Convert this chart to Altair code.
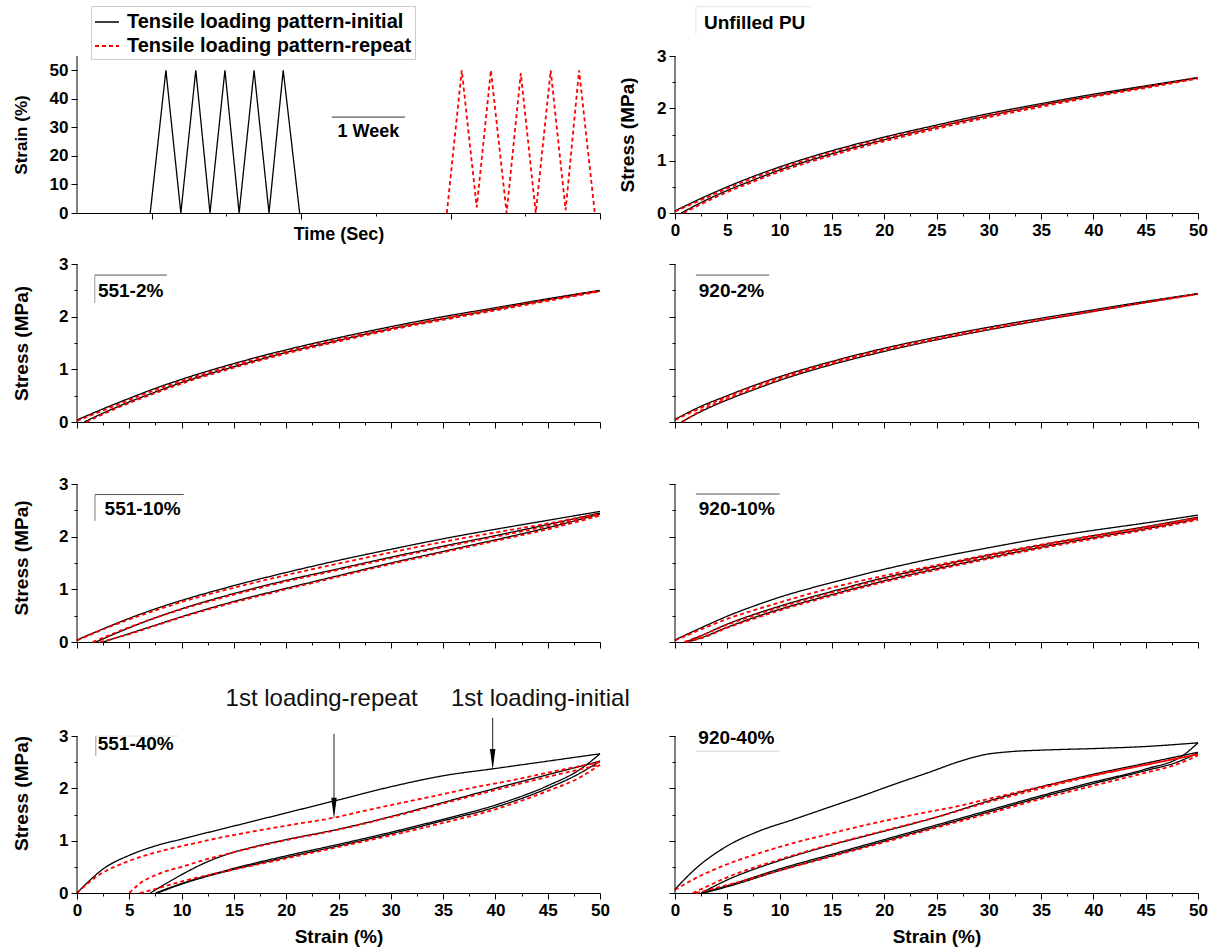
import altair as alt
import pandas as pd

FONT = "Liberation Sans"
SER_I = "Tensile loading pattern-initial"
SER_R = "Tensile loading pattern-repeat"

# ---------------- loading pattern (top-left) ----------------
PAT_INIT_TIME = [0.98, 1.19, 1.39, 1.59, 1.78, 1.98, 2.17, 2.37, 2.57, 2.76, 2.98]
PAT_INIT_STRAIN = [0, 50, 0, 50, 0, 50, 0, 50, 0, 50, 0]
PAT_REP_TIME = [4.95, 5.15, 5.35, 5.54, 5.75, 5.94, 6.14, 6.34, 6.54, 6.72, 6.93]
PAT_REP_STRAIN = [0, 50, 2, 50, 0, 49, 0, 50, 1, 50, 0]

# ---------------- Unfilled PU ----------------
PU_INIT_LOAD = [(0, 0.04), (2.5, 0.28), (5, 0.5), (7.5, 0.7), (10, 0.88), (15, 1.19), (20, 1.45), (25, 1.68), (30, 1.9), (35, 2.09), (40, 2.27), (45, 2.43), (50, 2.59)]
PU_INIT_UNLOAD = [(0.6, 0), (2.5, 0.2), (5, 0.43), (7.5, 0.63), (10, 0.82), (15, 1.13), (20, 1.4), (25, 1.64), (30, 1.86), (35, 2.06), (40, 2.24), (45, 2.41), (50, 2.58)]
PU_REP_LOAD = [(0, 0.03), (2.5, 0.25), (5, 0.47), (7.5, 0.67), (10, 0.85), (15, 1.16), (20, 1.42), (25, 1.65), (30, 1.87), (35, 2.06), (40, 2.24), (45, 2.41), (50, 2.58)]
PU_REP_UNLOAD = [(0.8, 0), (2.5, 0.17), (5, 0.4), (7.5, 0.6), (10, 0.79), (15, 1.1), (20, 1.37), (25, 1.61), (30, 1.83), (35, 2.03), (40, 2.22), (45, 2.39), (50, 2.57)]

# ---------------- 551-2% ----------------
A2_INIT_LOAD = [(0, 0.04), (2.5, 0.25), (5, 0.45), (7.5, 0.64), (10, 0.81), (15, 1.11), (20, 1.37), (25, 1.6), (30, 1.81), (35, 2.0), (40, 2.17), (45, 2.34), (50, 2.5)]
A2_INIT_UNLOAD = [(0.7, 0), (2.5, 0.17), (5, 0.38), (7.5, 0.57), (10, 0.75), (15, 1.05), (20, 1.32), (25, 1.55), (30, 1.77), (35, 1.96), (40, 2.14), (45, 2.32), (50, 2.49)]
A2_REP_LOAD = [(0, 0.02), (2.5, 0.22), (5, 0.42), (7.5, 0.61), (10, 0.78), (15, 1.08), (20, 1.34), (25, 1.57), (30, 1.78), (35, 1.97), (40, 2.15), (45, 2.32), (50, 2.49)]
A2_REP_UNLOAD = [(0.9, 0), (2.5, 0.15), (5, 0.36), (7.5, 0.55), (10, 0.73), (15, 1.03), (20, 1.3), (25, 1.53), (30, 1.75), (35, 1.94), (40, 2.12), (45, 2.3), (50, 2.48)]

# ---------------- 920-2% ----------------
B2_INIT_LOAD = [(0, 0.05), (2.5, 0.3), (5, 0.5), (7.5, 0.69), (10, 0.86), (15, 1.15), (20, 1.4), (25, 1.61), (30, 1.8), (35, 1.97), (40, 2.13), (45, 2.29), (50, 2.44)]
B2_INIT_UNLOAD = [(0.6, 0), (2.5, 0.2), (5, 0.42), (7.5, 0.61), (10, 0.79), (15, 1.09), (20, 1.34), (25, 1.56), (30, 1.75), (35, 1.93), (40, 2.1), (45, 2.27), (50, 2.43)]
B2_REP_LOAD = [(0, 0.04), (2.5, 0.27), (5, 0.48), (7.5, 0.67), (10, 0.84), (15, 1.13), (20, 1.38), (25, 1.59), (30, 1.78), (35, 1.95), (40, 2.11), (45, 2.27), (50, 2.43)]
B2_REP_UNLOAD = [(0.7, 0), (2.5, 0.22), (5, 0.44), (7.5, 0.63), (10, 0.81), (15, 1.11), (20, 1.36), (25, 1.57), (30, 1.76), (35, 1.94), (40, 2.1), (45, 2.27), (50, 2.43)]

# ---------------- 551-10% ----------------
A10_INIT_FIRST = [(0, 0.04), (2.5, 0.25), (5, 0.45), (7.5, 0.63), (10, 0.79), (15, 1.07), (20, 1.32), (25, 1.55), (30, 1.76), (35, 1.96), (40, 2.14), (45, 2.31), (50, 2.48)]
A10_INIT_RELOAD = [(1.8, 0), (5, 0.27), (7.5, 0.46), (10, 0.63), (15, 0.92), (20, 1.17), (25, 1.39), (30, 1.61), (35, 1.82), (40, 2.02), (45, 2.23), (50, 2.45)]
A10_INIT_UNLOAD = [(2.5, 0), (5, 0.16), (7.5, 0.32), (10, 0.48), (15, 0.77), (20, 1.02), (25, 1.26), (30, 1.5), (35, 1.72), (40, 1.94), (45, 2.17), (50, 2.43)]
A10_REP_FIRST = [(0, 0.03), (2.5, 0.24), (5, 0.43), (7.5, 0.6), (10, 0.76), (15, 1.03), (20, 1.27), (25, 1.49), (30, 1.7), (35, 1.9), (40, 2.08), (45, 2.25), (50, 2.44)]
A10_REP_RELOAD = [(1.5, 0), (5, 0.28), (7.5, 0.46), (10, 0.62), (15, 0.9), (20, 1.15), (25, 1.37), (30, 1.59), (35, 1.8), (40, 2.0), (45, 2.2), (50, 2.42)]
A10_REP_UNLOAD = [(2.2, 0), (5, 0.15), (7.5, 0.31), (10, 0.47), (15, 0.75), (20, 1.0), (25, 1.24), (30, 1.48), (35, 1.7), (40, 1.92), (45, 2.14), (50, 2.4)]

# ---------------- 920-10% ----------------
B10_INIT_FIRST = [(0, 0.04), (2.5, 0.27), (5, 0.49), (7.5, 0.68), (10, 0.85), (15, 1.13), (20, 1.38), (25, 1.6), (30, 1.79), (35, 1.97), (40, 2.12), (45, 2.26), (50, 2.41)]
B10_INIT_RELOAD = [(1.0, 0), (2.5, 0.12), (5, 0.34), (7.5, 0.52), (10, 0.68), (15, 0.96), (20, 1.22), (25, 1.44), (30, 1.65), (35, 1.84), (40, 2.02), (45, 2.19), (50, 2.37)]
B10_INIT_UNLOAD = [(1.2, 0), (2.5, 0.08), (5, 0.28), (7.5, 0.46), (10, 0.62), (15, 0.9), (20, 1.16), (25, 1.39), (30, 1.6), (35, 1.8), (40, 1.98), (45, 2.15), (50, 2.34)]
B10_REP_FIRST = [(0, 0.03), (2.5, 0.24), (5, 0.44), (7.5, 0.6), (10, 0.75), (15, 1.03), (20, 1.26), (25, 1.46), (30, 1.66), (35, 1.85), (40, 2.02), (45, 2.18), (50, 2.36)]
B10_REP_RELOAD = [(0.9, 0), (2.5, 0.12), (5, 0.33), (7.5, 0.5), (10, 0.66), (15, 0.94), (20, 1.2), (25, 1.42), (30, 1.63), (35, 1.82), (40, 2.0), (45, 2.17), (50, 2.35)]
B10_REP_UNLOAD = [(1.1, 0), (2.5, 0.07), (5, 0.27), (7.5, 0.44), (10, 0.6), (15, 0.88), (20, 1.14), (25, 1.37), (30, 1.58), (35, 1.78), (40, 1.96), (45, 2.13), (50, 2.32)]

# ---------------- 551-40% ----------------
A40_INIT_FIRST = [(0, 0), (1, 0.2), (2.5, 0.46), (5, 0.72), (7.5, 0.9), (10, 1.03), (15, 1.28), (20, 1.53), (25, 1.78), (30, 2.03), (35, 2.24), (40, 2.38), (45, 2.52), (50, 2.66)]
A40_INIT_RELOAD = [(7, 0), (8, 0.12), (10, 0.35), (12.5, 0.6), (15, 0.78), (17.5, 0.91), (20, 1.02), (25, 1.22), (30, 1.46), (35, 1.73), (40, 2.0), (45, 2.26), (50, 2.52)]
A40_INIT_UNLOAD1 = [(7.5, 0), (10, 0.18), (15, 0.47), (20, 0.71), (25, 0.93), (30, 1.16), (35, 1.41), (40, 1.68), (45, 2.05), (48, 2.35), (50, 2.66)]
A40_INIT_UNLOAD5 = [(7.7, 0), (10, 0.17), (15, 0.45), (20, 0.68), (25, 0.9), (30, 1.13), (35, 1.38), (40, 1.64), (45, 2.0), (48, 2.28), (50, 2.52)]
A40_REP_FIRST = [(0, 0), (1.7, 0.29), (4.8, 0.6), (8, 0.8), (11, 0.94), (14, 1.07), (17.5, 1.2), (21, 1.32), (24.6, 1.44), (27, 1.55), (30.5, 1.7), (34.3, 1.86), (38, 2.02), (41.5, 2.15), (45, 2.3), (50, 2.5)]
A40_REP_RELOAD = [(5, 0), (5.8, 0.15), (8, 0.38), (10, 0.5), (12.5, 0.65), (15, 0.78), (20, 1.01), (25, 1.21), (30, 1.45), (35, 1.71), (40, 1.97), (45, 2.22), (50, 2.45)]
A40_REP_UNLOAD = [(6, 0), (7, 0.05), (10, 0.22), (15, 0.45), (20, 0.66), (25, 0.88), (30, 1.1), (35, 1.34), (40, 1.6), (45, 1.95), (48, 2.2), (50, 2.45)]

# ---------------- 920-40% ----------------
B40_INIT_FIRST = [(0, 0.07), (2, 0.47), (5, 0.9), (8, 1.18), (11.4, 1.41), (14.6, 1.63), (17.8, 1.85), (21, 2.08), (24.2, 2.3), (27.3, 2.52), (29.5, 2.64), (32, 2.7), (35, 2.73), (40, 2.76), (45, 2.8), (50, 2.87)]
B40_INIT_RELOAD = [(2.5, 0), (5, 0.25), (10, 0.62), (15, 0.92), (20, 1.18), (25, 1.45), (30, 1.76), (35, 2.03), (40, 2.27), (45, 2.48), (50, 2.69)]
B40_INIT_UNLOAD1 = [(2.5, 0), (5, 0.14), (10, 0.46), (15, 0.74), (20, 1.02), (25, 1.3), (30, 1.58), (35, 1.86), (40, 2.12), (45, 2.37), (48.5, 2.62), (50, 2.87)]
B40_INIT_UNLOAD5 = [(2.7, 0), (5, 0.12), (10, 0.43), (15, 0.71), (20, 0.99), (25, 1.27), (30, 1.55), (35, 1.83), (40, 2.09), (45, 2.34), (48, 2.5), (50, 2.68)]
B40_REP_FIRST = [(0, 0.06), (1.85, 0.27), (5, 0.55), (8.2, 0.77), (11.4, 0.96), (14.6, 1.12), (17.8, 1.28), (21, 1.42), (24.2, 1.55), (27.3, 1.67), (30, 1.8), (35, 2.03), (40, 2.25), (45, 2.45), (50, 2.65)]
B40_REP_RELOAD = [(1.7, 0), (3, 0.12), (5, 0.3), (10, 0.64), (15, 0.93), (20, 1.19), (25, 1.45), (30, 1.74), (35, 2.0), (40, 2.24), (45, 2.45), (50, 2.65)]
B40_REP_UNLOAD = [(2, 0), (5, 0.15), (10, 0.43), (15, 0.7), (20, 0.97), (25, 1.25), (30, 1.52), (35, 1.8), (40, 2.05), (45, 2.3), (48, 2.46), (50, 2.63)]

# ---------------- ticks ----------------
X_TICKS = [i * 2.5 for i in range(21)]
Y_TICKS = [i * 0.5 for i in range(7)]
T_TICKS = [1, 2, 3, 4, 5, 6, 7]
PAT_Y_TICKS = [0.0, 10.0, 20.0, 30.0, 40.0, 50.0]

# ---------------- layout ----------------
W = 523
ROW_H = [157, 158, 169, 200]
ROW_YMAX = [3.0, 3.0, 3.209, 3.822]

CSCALE = alt.Scale(domain=[SER_I, SER_R], range=["#000000", "#ff0000"])
DSCALE = alt.Scale(domain=[SER_I, SER_R], range=[[1, 0], [4, 3]])
WSCALE = alt.Scale(domain=[SER_I, SER_R], range=[1.3, 1.8])
COLOR = alt.Color("series:N", scale=CSCALE, title=None)
DASH = alt.StrokeDash("series:N", scale=DSCALE, title=None)
WIDTH = alt.StrokeWidth("series:N", scale=WSCALE, title=None)


def cond(test, big, small):
    return {"condition": {"test": test, "value": big}, "value": small}


def curves_df(curves):
    rows = []
    for cid, (series, pts) in enumerate(curves):
        for i, (x, y) in enumerate(sorted(pts)):
            rows.append({"curve": cid, "series": series, "x": x, "y": y, "i": i})
    return pd.DataFrame(rows)


def stress_panel(curves, row, xlabels, ylabels, ytitle_pad, label, label_xy, deco, extras=None):
    h = ROW_H[row]
    ymax = ROW_YMAX[row]
    xax_kw = dict(values=X_TICKS, tickSize=cond("datum.value % 5 === 0", 6, 3),
                  labelExpr="datum.value % 5 === 0 ? '' + datum.value : ''", labels=xlabels,
                  titlePadding=9, labelOverlap=False)
    yax_kw = dict(values=Y_TICKS, tickSize=cond("datum.value % 1 === 0", 6, 3),
                  labelExpr="datum.value % 1 === 0 ? '' + datum.value : ''", labels=ylabels,
                  domain=False, titlePadding=ytitle_pad, labelOverlap=False)
    xtitle = "Strain (%)" if row == 3 else None
    ytitle = "Stress (MPa)" if ylabels else None
    xax = alt.Axis(**xax_kw)
    yax = alt.Axis(**yax_kw)
    df = curves_df(curves)
    lines = alt.Chart(df).mark_line(interpolate="monotone").encode(
        x=alt.X("x:Q", scale=alt.Scale(domain=[0, 50], nice=False), axis=xax, title=xtitle),
        y=alt.Y("y:Q", scale=alt.Scale(domain=[0, ymax], nice=False), axis=yax, title=ytitle),
        color=COLOR, strokeDash=DASH, strokeWidth=WIDTH, detail="curve:N", order="i:Q")
    yline = alt.Chart(pd.DataFrame({"x": [0], "y": [0], "y2": [3]})).mark_rule(
        color="black", strokeWidth=1).encode(
        x=alt.X("x:Q", title=xtitle, axis=xax), y=alt.Y("y:Q", title=ytitle, axis=yax), y2="y2:Q")
    deco_df = pd.DataFrame(deco, columns=["x", "x2", "y", "y2", "c"])
    deco_layer = alt.Chart(deco_df).mark_rule(strokeWidth=1).encode(
        x=alt.X("x:Q", title=xtitle, axis=xax), x2="x2:Q", y=alt.Y("y:Q", title=ytitle, axis=yax), y2="y2:Q",
        stroke=alt.Stroke("c:N", scale=None))
    txt = alt.Chart(pd.DataFrame({"x": [label_xy[0]], "y": [label_xy[1]], "t": [label]})).mark_text(
        align="left", baseline="middle", font=FONT, fontWeight="bold", fontSize=19, color="black").encode(
        x=alt.X("x:Q", title=xtitle, axis=xax), y=alt.Y("y:Q", title=ytitle, axis=yax), text="t:N")
    layers = [lines, yline, deco_layer, txt]
    for make in (extras or []):
        layers.append(make(xax, yax))
    return alt.layer(*layers).properties(width=W, height=h)


# ---------------- top-left: loading pattern ----------------
pat_rows = []
for i, (t, s) in enumerate(zip(PAT_INIT_TIME, PAT_INIT_STRAIN)):
    pat_rows.append({"curve": 0, "series": SER_I, "x": t, "y": s, "i": i})
for i, (t, s) in enumerate(zip(PAT_REP_TIME, PAT_REP_STRAIN)):
    pat_rows.append({"curve": 1, "series": SER_R, "x": t, "y": s, "i": i})
pat_df = pd.DataFrame(pat_rows)

TT = "Time (Sec)"
ST = "Strain (%)"
PAT_X_AXIS = alt.Axis(values=T_TICKS, tickSize=cond("datum.value % 2 === 1", 6, 3),
                      labels=False, titlePadding=6, titleFontSize=18)
PAT_Y_AXIS = alt.Axis(values=PAT_Y_TICKS, tickCount=6, tickSize=6, domain=False, titlePadding=19,
                      titleFontSize=17, labelOverlap=False, labelExpr="'' + datum.value")
pat_lines = alt.Chart(pat_df).mark_line().encode(
    x=alt.X("x:Q", scale=alt.Scale(domain=[0, 7], nice=False), title=TT, axis=PAT_X_AXIS),
    y=alt.Y("y:Q", scale=alt.Scale(domain=[0, 55], nice=False), title=ST, axis=PAT_Y_AXIS),
    color=COLOR, strokeDash=DASH, strokeWidth=WIDTH, detail="curve:N", order="i:Q")
pat_yline = alt.Chart(pd.DataFrame({"x": [0], "y": [0], "y2": [55]})).mark_rule(
    color="black", strokeWidth=1).encode(
    x=alt.X("x:Q", title=TT, axis=PAT_X_AXIS), y=alt.Y("y:Q", title=ST, axis=PAT_Y_AXIS), y2="y2:Q")
week_rule = alt.Chart(pd.DataFrame({"x": [3.41], "x2": [4.39], "y": [33.6]})).mark_rule(
    color="#333333", strokeWidth=1).encode(
    x=alt.X("x:Q", title=TT, axis=PAT_X_AXIS), x2="x2:Q", y=alt.Y("y:Q", title=ST, axis=PAT_Y_AXIS))
week_txt = alt.Chart(pd.DataFrame({"x": [3.9], "y": [28.4], "t": ["1 Week"]})).mark_text(
    align="center", baseline="middle", font=FONT, fontWeight="bold", fontSize=18, color="black").encode(
    x=alt.X("x:Q", title=TT, axis=PAT_X_AXIS), y=alt.Y("y:Q", title=ST, axis=PAT_Y_AXIS), text="t:N")
tl = alt.layer(pat_lines, pat_yline, week_rule, week_txt).properties(width=W, height=ROW_H[0])

# ---------------- stress panels ----------------
tr = stress_panel(
    [(SER_I, PU_INIT_LOAD), (SER_I, PU_INIT_UNLOAD), (SER_R, PU_REP_LOAD), (SER_R, PU_REP_UNLOAD)],
    0, True, True, 19, "Unfilled PU", (2.77, 3.63),
    [(2.0, 13.0, 3.94, 3.94, "#e3e3e3"), (2.0, 2.0, 3.94, 3.42, "#e3e3e3")])

p551_2 = stress_panel(
    [(SER_I, A2_INIT_LOAD), (SER_I, A2_INIT_UNLOAD), (SER_R, A2_REP_LOAD), (SER_R, A2_REP_UNLOAD)],
    1, False, True, 27, "551-2%", (2.0, 2.49),
    [(1.7, 8.6, 2.79, 2.79, "#555555"), (1.7, 1.7, 2.79, 2.26, "#999999")])

p920_2 = stress_panel(
    [(SER_I, B2_INIT_LOAD), (SER_I, B2_INIT_UNLOAD), (SER_R, B2_REP_LOAD), (SER_R, B2_REP_UNLOAD)],
    1, False, False, 10, "920-2%", (2.27, 2.49),
    [(2.0, 9.0, 2.79, 2.79, "#555555")])

p551_10 = stress_panel(
    [(SER_I, A10_INIT_FIRST), (SER_I, A10_INIT_RELOAD), (SER_I, A10_INIT_UNLOAD),
     (SER_R, A10_REP_FIRST), (SER_R, A10_REP_RELOAD), (SER_R, A10_REP_UNLOAD)],
    2, False, True, 27, "551-10%", (2.64, 2.53),
    [(1.72, 10.2, 2.8, 2.8, "#555555"), (1.72, 1.72, 2.8, 2.3, "#777777")])

p920_10 = stress_panel(
    [(SER_I, B10_INIT_FIRST), (SER_I, B10_INIT_RELOAD), (SER_I, B10_INIT_UNLOAD),
     (SER_R, B10_REP_FIRST), (SER_R, B10_REP_RELOAD), (SER_R, B10_REP_UNLOAD)],
    2, False, False, 10, "920-10%", (2.27, 2.53),
    [(2.0, 10.0, 2.81, 2.81, "#555555")])

# annotations for 551-40%
ARROW_X = [24.57, 39.74]
ARROW_TOP = [3.04, 3.35]
ARROW_END = [1.62, 2.55]
ANNOT_X = [14.2, 35.75]
ANNOT_Y = [3.71, 3.71]
ANNOT_T = ["1st loading-repeat", "1st loading-initial"]

XT = "Strain (%)"
YT = "Stress (MPa)"
arr_df = pd.DataFrame({"x": ARROW_X, "y": ARROW_TOP, "y2": ARROW_END})


def arrow_lines(xax, yax):
    return alt.Chart(arr_df).mark_rule(color="#222222", strokeWidth=1).encode(
        x=alt.X("x:Q", title=XT, axis=xax), y=alt.Y("y:Q", title=YT, axis=yax), y2="y2:Q")


def arrow_heads(xax, yax):
    return alt.Chart(arr_df).mark_point(
        shape="M-0.26,-1L0.26,-1L0,1Z", size=441, filled=True, color="#000000", opacity=1).encode(
        x=alt.X("x:Q", title=XT, axis=xax), y=alt.Y("y2:Q", title=YT, axis=yax))


def annot(xax, yax):
    return alt.Chart(pd.DataFrame({"x": ANNOT_X, "y": ANNOT_Y, "t": ANNOT_T})).mark_text(
        align="left", baseline="middle", font=FONT, fontSize=24, color="#111111").encode(
        x=alt.X("x:Q", title=XT, axis=xax), y=alt.Y("y:Q", title=YT, axis=yax), text="t:N")


p551_40 = stress_panel(
    [(SER_I, A40_INIT_FIRST), (SER_I, A40_INIT_RELOAD), (SER_I, A40_INIT_UNLOAD1), (SER_I, A40_INIT_UNLOAD5),
     (SER_R, A40_REP_FIRST), (SER_R, A40_REP_RELOAD), (SER_R, A40_REP_UNLOAD)],
    3, True, True, 27, "551-40%", (1.98, 2.84),
    [(1.8, 9.7, 3.0, 3.0, "#e0e0e0"), (1.8, 1.8, 3.0, 2.62, "#999999")],
    extras=[arrow_lines, arrow_heads, annot])

p920_40 = stress_panel(
    [(SER_I, B40_INIT_FIRST), (SER_I, B40_INIT_RELOAD), (SER_I, B40_INIT_UNLOAD1), (SER_I, B40_INIT_UNLOAD5),
     (SER_R, B40_REP_FIRST), (SER_R, B40_REP_RELOAD), (SER_R, B40_REP_UNLOAD)],
    3, True, False, 10, "920-40%", (2.23, 2.96),
    [(2.0, 10.0, 2.71, 2.71, "#d5d5d5")])

chart = alt.concat(
    tl, tr, p551_2, p920_2, p551_10, p920_10, p551_40, p920_40,
    columns=2, spacing={"row": 51, "column": 75}, bounds="flush", align="each"
).properties(
    padding={"left": 11, "top": 5, "right": 5, "bottom": 5},
    background="white"
).configure_view(
    stroke="transparent"
).configure_axis(
    labelFont=FONT, labelFontWeight="bold", labelFontSize=17, labelColor="black",
    titleFont=FONT, titleFontWeight="bold", titleFontSize=19, titleColor="black",
    domainColor="black", tickColor="black", grid=False, labelPadding=3,
    labelFlush=False, labelOverlap=False
).configure_legend(
    orient="none", legendX=14, legendY=-50, labelFont=FONT, labelFontSize=20,
    labelFontWeight="bold", labelColor="black", labelLimit=400, symbolType="stroke",
    symbolSize=576, symbolStrokeWidth=1.5, strokeColor="#cccccc", fillColor="white",
    padding=3, rowPadding=1, labelOffset=7
)

chart.save("out.html", embed_options={"renderer": "svg", "actions": False})
